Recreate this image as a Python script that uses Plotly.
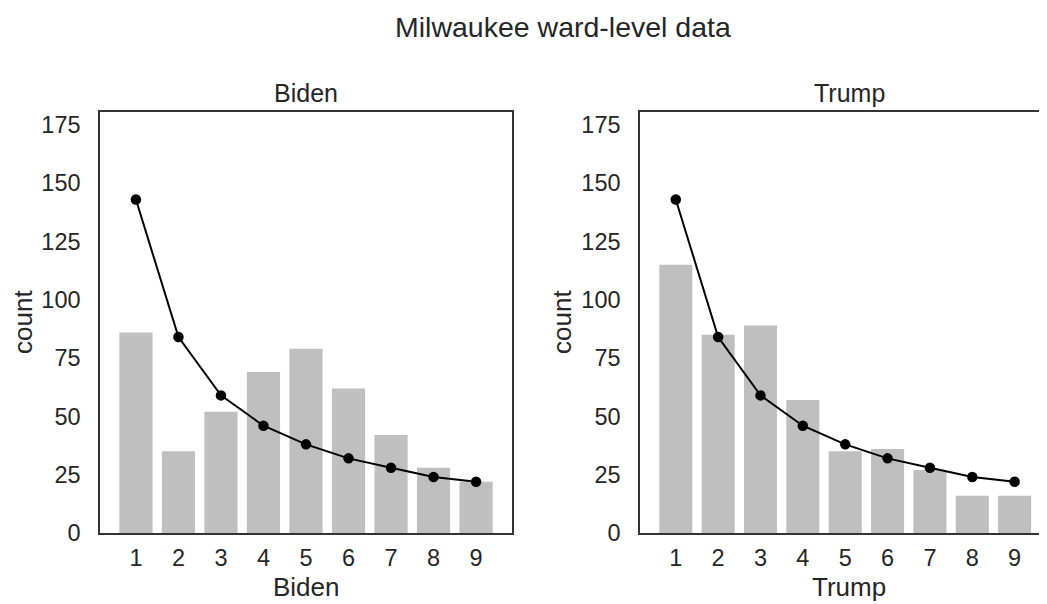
import plotly.graph_objects as go

# ---------------------------------------------
# data: first-digit counts per ward + Benford expectation
# ---------------------------------------------
digits = [1, 2, 3, 4, 5, 6, 7, 8, 9]
biden_counts = [86, 35, 52, 69, 79, 62, 42, 28, 22]
trump_counts = [115, 85, 89, 57, 35, 36, 27, 16, 16]
biden_benford = [143, 84, 59, 46, 38, 32, 28, 24, 22]
trump_benford = [143, 84, 59, 46, 38, 32, 28, 24, 22]
y_ticks = [0, 25, 50, 75, 100, 125, 150, 175]

# page is 1047x604, body keeps its 8px margin -> shift everything by 8px
PAGE_W, PAGE_H = 1047, 604
OFF = 8
W, H = PAGE_W - 2 * OFF, PAGE_H - OFF
FONT = "Liberation Sans, Arial, sans-serif"
TXT = "#262626"
FRAME = "#333333"


def px(x):
    # page pixel -> paper fraction
    return (x - OFF) / W


def py(y):
    return 1 - (y - OFF) / H


fig = go.Figure()

panels = [
    ("x", "y", biden_counts, biden_benford),
    ("x2", "y2", trump_counts, trump_benford),
]
for xa, ya, counts, expected in panels:
    # expected line goes underneath the translucent bars
    fig.add_trace(go.Scatter(
        x=digits, y=expected, mode="lines+markers",
        line=dict(color="black", width=2),
        marker=dict(color="black", size=10.5),
        xaxis=xa, yaxis=ya, showlegend=False,
    ))
    fig.add_trace(go.Bar(
        x=digits, y=counts, width=0.78,
        marker=dict(color="gray", line_width=0),
        opacity=0.5,
        xaxis=xa, yaxis=ya, showlegend=False,
    ))

y_top, y_bot = 112, 533
common_y = dict(
    range=[0, 180.5], tickvals=y_ticks, showgrid=False, zeroline=False,
    showline=True, linecolor=FRAME, linewidth=1.5,
    ticks="", ticklabelstandoff=13,
    tickfont=dict(size=23.5, color=TXT, family=FONT),
    domain=[py(y_bot), py(y_top)], automargin=False,
)
common_x = dict(
    tickvals=digits, showgrid=False, zeroline=False,
    showline=True, linecolor=FRAME, linewidth=1.5, mirror=True,
    ticks="", ticklabelstandoff=3,
    tickfont=dict(size=23.5, color=TXT, family=FONT), automargin=False,
)

fig.update_layout(
    width=W, height=H,
    margin=dict(l=0, r=0, t=0, b=0),
    paper_bgcolor="white", plot_bgcolor="white",
    barmode="overlay",
    font=dict(family=FONT, color=TXT),
    xaxis=dict(common_x, domain=[px(100), px(512)], range=[0.155, 9.845]),
    yaxis=dict(common_y, anchor="x", mirror=True),
    xaxis2=dict(common_x, domain=[px(640), 1.0], range=[0.155, 9.575], anchor="y2"),
    yaxis2=dict(common_y, anchor="x2", mirror=False),
)

annotations = [
    ("Milwaukee ward-level data", 563, 27, 28.5, 0),
    ("Biden", 306, 93, 25, 0),
    ("Trump", 849, 93, 25, 0),
    ("Biden", 306, 587, 26, 0),
    ("Trump", 849, 587, 26, 0),
    ("count", 23, 322, 26, -90),
    ("count", 562, 322, 26, -90),
]
for text, x, y, size, ang in annotations:
    fig.add_annotation(
        text=text, x=px(x), y=py(y), xref="paper", yref="paper",
        showarrow=False, textangle=ang, xanchor="center", yanchor="middle",
        font=dict(size=size, color=TXT, family=FONT),
    )

fig.write_html("out.html")
